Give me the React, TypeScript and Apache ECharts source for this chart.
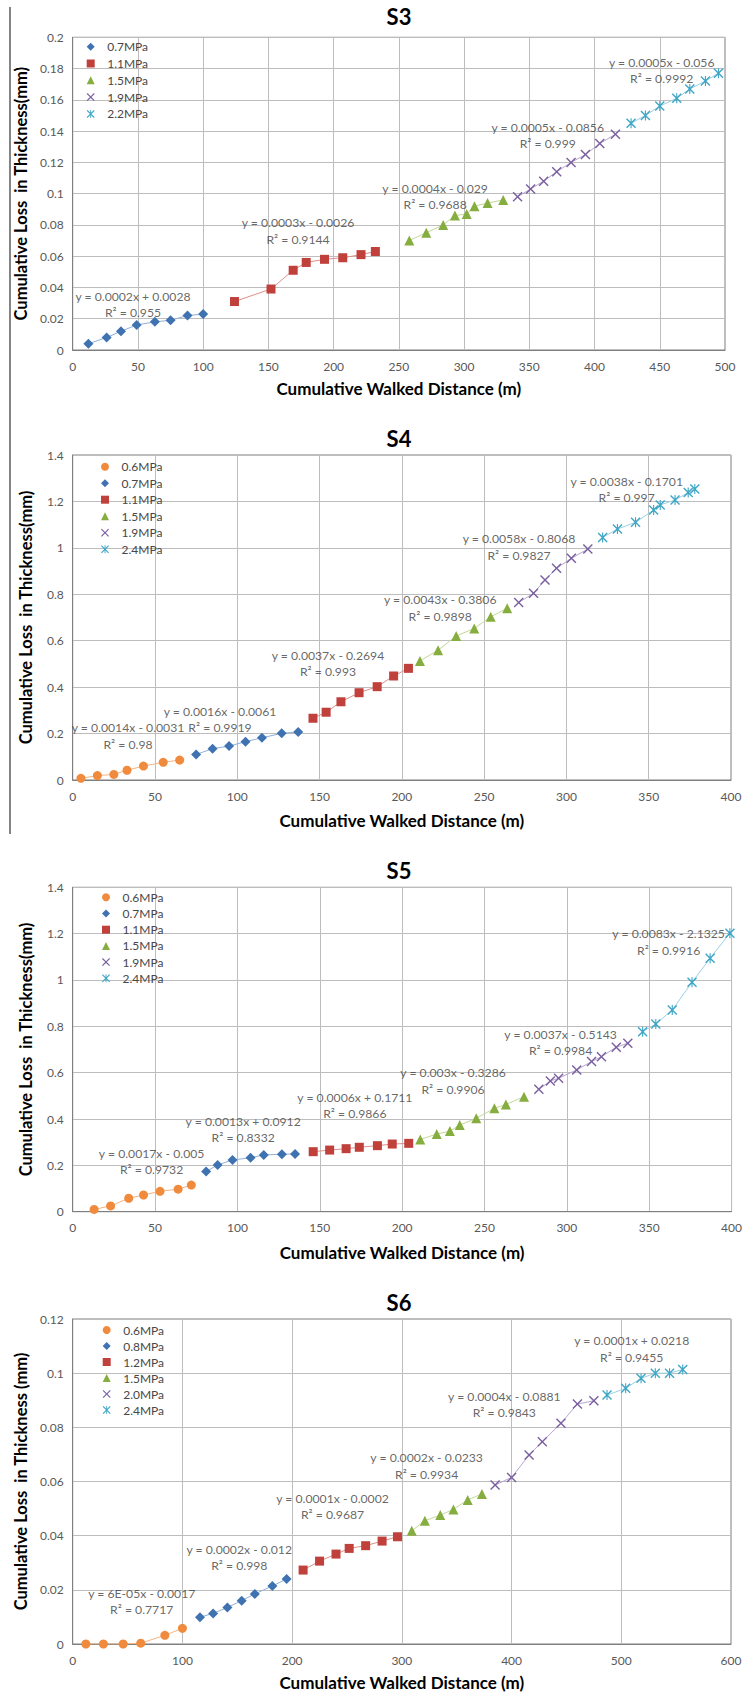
import React, { useEffect, useRef } from 'react';
import * as echarts from 'echarts';

const FONT = 'Lato, "Noto Sans", "DejaVu Sans", sans-serif';

// ---------------- DATA ----------------
// S3
const S3_PRESSURES = ['0.7MPa', '1.1MPa', '1.5MPa', '1.9MPa', '2.2MPa'];
const S3_DISTANCE = [
  [12, 26, 37, 49, 63, 75, 88, 100],
  [124, 152, 169, 179, 193, 207, 221, 232],
  [258, 271, 284, 293, 302, 308, 318, 330],
  [341, 351, 361, 371, 382, 393, 404, 416],
  [428, 439, 450, 463, 473, 485, 495],
];
const S3_LOSS = [
  [0.004, 0.008, 0.012, 0.016, 0.018, 0.019, 0.022, 0.023],
  [0.031, 0.039, 0.051, 0.056, 0.058, 0.059, 0.061, 0.063],
  [0.07, 0.075, 0.08, 0.086, 0.087, 0.092, 0.094, 0.096],
  [0.098, 0.103, 0.108, 0.114, 0.12, 0.125, 0.132, 0.138],
  [0.145, 0.15, 0.156, 0.161, 0.167, 0.172, 0.177],
];
const S3_FITS = [
  'y = 0.0002x + 0.0028\nR² = 0.955',
  'y = 0.0003x - 0.0026\nR² = 0.9144',
  'y = 0.0004x - 0.029\nR² = 0.9688',
  'y = 0.0005x - 0.0856\nR² = 0.999',
  'y = 0.0005x - 0.056\nR² = 0.9992',
];

// S4
const S4_PRESSURES = ['0.6MPa', '0.7MPa', '1.1MPa', '1.5MPa', '1.9MPa', '2.4MPa'];
const S4_DISTANCE = [
  [5, 15, 25, 33, 43, 55, 65],
  [75, 85, 95, 105, 115, 127, 137],
  [146, 154, 163, 174, 185, 195, 204],
  [211, 222, 233, 244, 254, 264],
  [271, 280, 287, 294, 303, 313],
  [322, 331, 342, 353, 357, 366, 374, 378],
];
const S4_LOSS = [
  [0.007, 0.019, 0.024, 0.042, 0.06, 0.076, 0.086],
  [0.11, 0.135, 0.146, 0.165, 0.182, 0.201, 0.207],
  [0.266, 0.292, 0.337, 0.376, 0.402, 0.448, 0.481],
  [0.513, 0.559, 0.62, 0.653, 0.703, 0.74],
  [0.765, 0.804, 0.862, 0.912, 0.955, 0.995],
  [1.045, 1.081, 1.11, 1.163, 1.185, 1.206, 1.238, 1.254],
];
const S4_FITS = [
  'y = 0.0014x - 0.0031\nR² = 0.98',
  'y = 0.0016x - 0.0061\nR² = 0.9919',
  'y = 0.0037x - 0.2694\nR² = 0.993',
  'y = 0.0043x - 0.3806\nR² = 0.9898',
  'y = 0.0058x - 0.8068\nR² = 0.9827',
  'y = 0.0038x - 0.1701\nR² = 0.997',
];

// S5
const S5_PRESSURES = ['0.6MPa', '0.7MPa', '1.1MPa', '1.5MPa', '1.9MPa', '2.4MPa'];
const S5_DISTANCE = [
  [13, 23, 34, 43, 53, 64, 72],
  [81, 88, 97, 108, 116, 127, 135],
  [146, 156, 166, 174, 185, 194, 204],
  [211, 221, 229, 235, 245, 256, 263, 274],
  [283, 290, 295, 306, 315, 321, 330, 337],
  [346, 354, 364, 376, 387, 399],
];
const S5_LOSS = [
  [0.01, 0.025, 0.058, 0.072, 0.088, 0.097, 0.115],
  [0.173, 0.202, 0.223, 0.233, 0.245, 0.248, 0.249],
  [0.259, 0.266, 0.272, 0.278, 0.285, 0.292, 0.295],
  [0.312, 0.335, 0.348, 0.374, 0.403, 0.446, 0.463, 0.496],
  [0.528, 0.564, 0.576, 0.612, 0.648, 0.669, 0.71, 0.727],
  [0.777, 0.81, 0.871, 0.99, 1.094, 1.202],
];
const S5_FITS = [
  'y = 0.0017x - 0.005\nR² = 0.9732',
  'y = 0.0013x + 0.0912\nR² = 0.8332',
  'y = 0.0006x + 0.1711\nR² = 0.9866',
  'y = 0.003x - 0.3286\nR² = 0.9906',
  'y = 0.0037x - 0.5143\nR² = 0.9984',
  'y = 0.0083x - 2.1325\nR² = 0.9916',
];

// S6
const S6_PRESSURES = ['0.6MPa', '0.8MPa', '1.2MPa', '1.5MPa', '2.0MPa', '2.4MPa'];
const S6_DISTANCE = [
  [12, 28, 46, 62, 84, 100],
  [116, 128, 141, 154, 166, 182, 195],
  [210, 225, 240, 252, 267, 282, 296],
  [309, 321, 335, 347, 360, 373],
  [385, 400, 416, 428, 445, 460, 475],
  [487, 504, 518, 531, 544, 556],
];
const S6_LOSS = [
  [0, 0, 0, 0.0003, 0.0032, 0.0058],
  [0.0099, 0.0113, 0.0135, 0.016, 0.0185, 0.0214, 0.024],
  [0.0273, 0.0306, 0.0332, 0.0353, 0.0363, 0.038, 0.0396],
  [0.0418, 0.0455, 0.0476, 0.0497, 0.0532, 0.0554],
  [0.0587, 0.0615, 0.0698, 0.0747, 0.0815, 0.0886, 0.0898],
  [0.0919, 0.0944, 0.0981, 0.1, 0.1, 0.1014],
];
const S6_FITS = [
  'y = 6E-05x - 0.0017\nR² = 0.7717',
  'y = 0.0002x - 0.012\nR² = 0.998',
  'y = 0.0001x - 0.0002\nR² = 0.9687',
  'y = 0.0002x - 0.0233\nR² = 0.9934',
  'y = 0.0004x - 0.0881\nR² = 0.9843',
  'y = 0.0001x + 0.0218\nR² = 0.9455',
];

// ---------------- LAYOUT / STYLE ----------------
const X_PATH = 'path://M0,1L1,0L5,4L9,0L10,1L6,5L10,9L9,10L5,6L1,10L0,9L4,5Z';
const STAR_PATH =
  'path://M0,1L1,0L5,4L9,0L10,1L6,5L10,9L9,10L5,6L1,10L0,9L4,5Z M4.45,0L5.55,0L5.55,10L4.45,10Z';

const MARKERS = [
  { symbol: 'circle', size: 9, color: '#F08A3C', line: '#F5B383' },
  { symbol: 'diamond', size: 10, color: '#3F72B0', line: '#8FB0D8' },
  { symbol: 'rect', size: 9, color: '#C0403C', line: '#DE8F8C' },
  { symbol: 'triangle', size: 10, color: '#86AD3F', line: '#C2D89A' },
  { symbol: X_PATH, size: 10, color: '#7A5FA0', line: '#B7A6D0' },
  { symbol: STAR_PATH, size: 10, color: '#3FA6C6', line: '#9AD1E3' },
];

// label anchors (data coordinates) of the trend-line equations
const S3_FIT_AT = [[46.2, 0.0292], [172.7, 0.0761], [277.8, 0.0983], [364.1, 0.1373], [451.5, 0.1789]];
const S4_FIT_AT = [[33.6, 0.1895], [89.5, 0.2615], [155.1, 0.5027], [223.3, 0.742], [271.2, 1.003], [336.6, 1.2506]];
const S5_FIT_AT = [[47.9, 0.2176], [103.5, 0.354], [171.3, 0.4593], [230.9, 0.565], [296.2, 0.7303], [361.8, 1.1629]];
const S6_FIT_AT = [[62.9, 0.01577], [151.8, 0.03187], [236.8, 0.05084], [322.6, 0.06572], [393.4, 0.08843], [509.5, 0.10893]];

const PANELS = [
  {
    title: 'S3', titleY: 3, pressures: S3_PRESSURES, dist: S3_DISTANCE, loss: S3_LOSS, fits: S3_FITS, fitAt: S3_FIT_AT,
    markerOffset: 1, left: 72.7, top: 37.3, width: 652.3, height: 312.7,
    xMax: 500, xStep: 50, yMax: 0.2, yStep: 0.02, xNameGap: 30, yNameGap: 43,
    yName: 'Cumulative Loss  in Thickness(mm)', legendLeft: 86.7, legendTop: 38.7, legendGap: 0.8,
  },
  {
    title: 'S4', titleY: 425, pressures: S4_PRESSURES, dist: S4_DISTANCE, loss: S4_LOSS, fits: S4_FITS, fitAt: S4_FIT_AT,
    markerOffset: 0, left: 72.7, top: 455, width: 658.3, height: 325,
    xMax: 400, xStep: 50, yMax: 1.4, yStep: 0.2, xNameGap: 32, yNameGap: 38,
    yName: 'Cumulative Loss  in Thickness(mm)', legendLeft: 101, legendTop: 458.7, legendGap: 0.5,
  },
  {
    title: 'S5', titleY: 857, pressures: S5_PRESSURES, dist: S5_DISTANCE, loss: S5_LOSS, fits: S5_FITS, fitAt: S5_FIT_AT,
    markerOffset: 0, left: 72.7, top: 887.3, width: 659.3, height: 324.4,
    xMax: 400, xStep: 50, yMax: 1.4, yStep: 0.2, xNameGap: 32, yNameGap: 38,
    yName: 'Cumulative Loss  in Thickness(mm)', legendLeft: 102, legendTop: 889.3, legendGap: 0.2,
  },
  {
    title: 'S6', titleY: 1289, pressures: S6_PRESSURES, dist: S6_DISTANCE, loss: S6_LOSS, fits: S6_FITS, fitAt: S6_FIT_AT,
    markerOffset: 0, left: 72.7, top: 1319, width: 658.3, height: 325,
    xMax: 600, xStep: 100, yMax: 0.12, yStep: 0.02, xNameGap: 30, yNameGap: 38,
    yName: 'Cumulative Loss  in Thickness (mm)', legendLeft: 102.7, legendTop: 1322, legendGap: 0,
  },
];

const fmt = (v: number) => String(parseFloat(Number(v).toFixed(4)));

function buildOption() {
  const series: any[] = [];
  PANELS.forEach((p, i) => {
    p.pressures.forEach((name, k) => {
      const m = MARKERS[k + p.markerOffset];
      series.push({
        type: 'line',
        name,
        xAxisIndex: i,
        yAxisIndex: i,
        data: p.dist[k].map((x, j) => [x, p.loss[k][j]]),
        symbol: m.symbol,
        symbolSize: m.size,
        showAllSymbol: true,
        itemStyle: { color: m.color },
        lineStyle: { color: m.line, width: 1 },
        emphasis: { disabled: true },
        silent: true,
        z: 3,
      });
    });
    series.push({
      type: 'scatter',
      name: p.title + ' trend lines',
      xAxisIndex: i,
      yAxisIndex: i,
      data: p.fitAt.map((xy) => xy),
      symbolSize: 1,
      itemStyle: { color: 'rgba(0,0,0,0)' },
      silent: true,
      z: 5,
      label: {
        show: true,
        position: 'inside',
        formatter: (params: any) => p.fits[params.dataIndex],
        fontFamily: FONT,
        fontSize: 12.2,
        lineHeight: 16.5,
        color: '#404040',
        align: 'center',
      },
    });
  });

  return {
    animation: false,
    backgroundColor: '#ffffff',
    title: PANELS.map((p) => ({
      text: p.title,
      left: 399,
      top: p.titleY,
      textAlign: 'center',
      padding: 0,
      textStyle: { fontFamily: FONT, fontSize: 22, fontWeight: 'bold', color: '#000', lineHeight: 26 },
    })),
    legend: PANELS.map((p) => ({
      orient: 'vertical',
      left: p.legendLeft,
      top: p.legendTop,
      padding: 0,
      itemWidth: 8,
      itemHeight: 8,
      itemGap: p.legendGap,
      selectedMode: false,
      textStyle: { fontFamily: FONT, fontSize: 12, color: '#474747', lineHeight: 16, padding: [0, 0, 0, 7.5] },
      data: p.pressures.map((n, k) => ({ name: n, icon: MARKERS[k + p.markerOffset].symbol })),
    })),
    grid: PANELS.map((p) => ({
      left: p.left,
      top: p.top,
      width: p.width,
      height: p.height,
      show: true,
      borderColor: '#7f7f7f',
      borderWidth: 1,
      backgroundColor: 'rgba(0,0,0,0)',
    })),
    xAxis: PANELS.map((p, i) => ({
      type: 'value',
      gridIndex: i,
      min: 0,
      max: p.xMax,
      interval: p.xStep,
      name: 'Cumulative Walked Distance (m)',
      nameLocation: 'middle',
      nameGap: p.xNameGap,
      nameTextStyle: { fontFamily: FONT, fontSize: 17, fontWeight: 'bold', color: '#000' },
      axisLine: { show: true, lineStyle: { color: '#7f7f7f' } },
      axisTick: { show: false },
      axisLabel: { fontFamily: FONT, fontSize: 12, color: '#595959', margin: 10, formatter: fmt },
      splitLine: { show: true, lineStyle: { color: '#bdbdbd', width: 1 } },
    })),
    yAxis: PANELS.map((p, i) => ({
      type: 'value',
      gridIndex: i,
      min: 0,
      max: p.yMax,
      interval: p.yStep,
      name: p.yName,
      nameLocation: 'middle',
      nameGap: p.yNameGap,
      nameTextStyle: { fontFamily: FONT, fontSize: 16.5, fontWeight: 'bold', color: '#000' },
      axisLine: { show: true, lineStyle: { color: '#7f7f7f' } },
      axisTick: { show: false },
      axisLabel: { fontFamily: FONT, fontSize: 12, color: '#595959', margin: 9, formatter: fmt },
      splitLine: { show: true, lineStyle: { color: '#bdbdbd', width: 1 } },
    })),
    graphic: [
      {
        type: 'line',
        shape: { x1: 10, y1: 7, x2: 10, y2: 834 },
        style: { stroke: '#333333', lineWidth: 1.2 },
        silent: true,
      },
    ],
    series,
  };
}

export default function App() {
  const ref = useRef<HTMLDivElement>(null);
  useEffect(() => {
    const chart = echarts.init(ref.current as HTMLDivElement, null, { renderer: 'svg' });
    chart.setOption(buildOption() as any);
    return () => chart.dispose();
  }, []);
  return (
    <div
      ref={ref}
      style={{ position: 'absolute', left: 0, top: 0, width: 745, height: 1697, background: '#fff' }}
    />
  );
}
